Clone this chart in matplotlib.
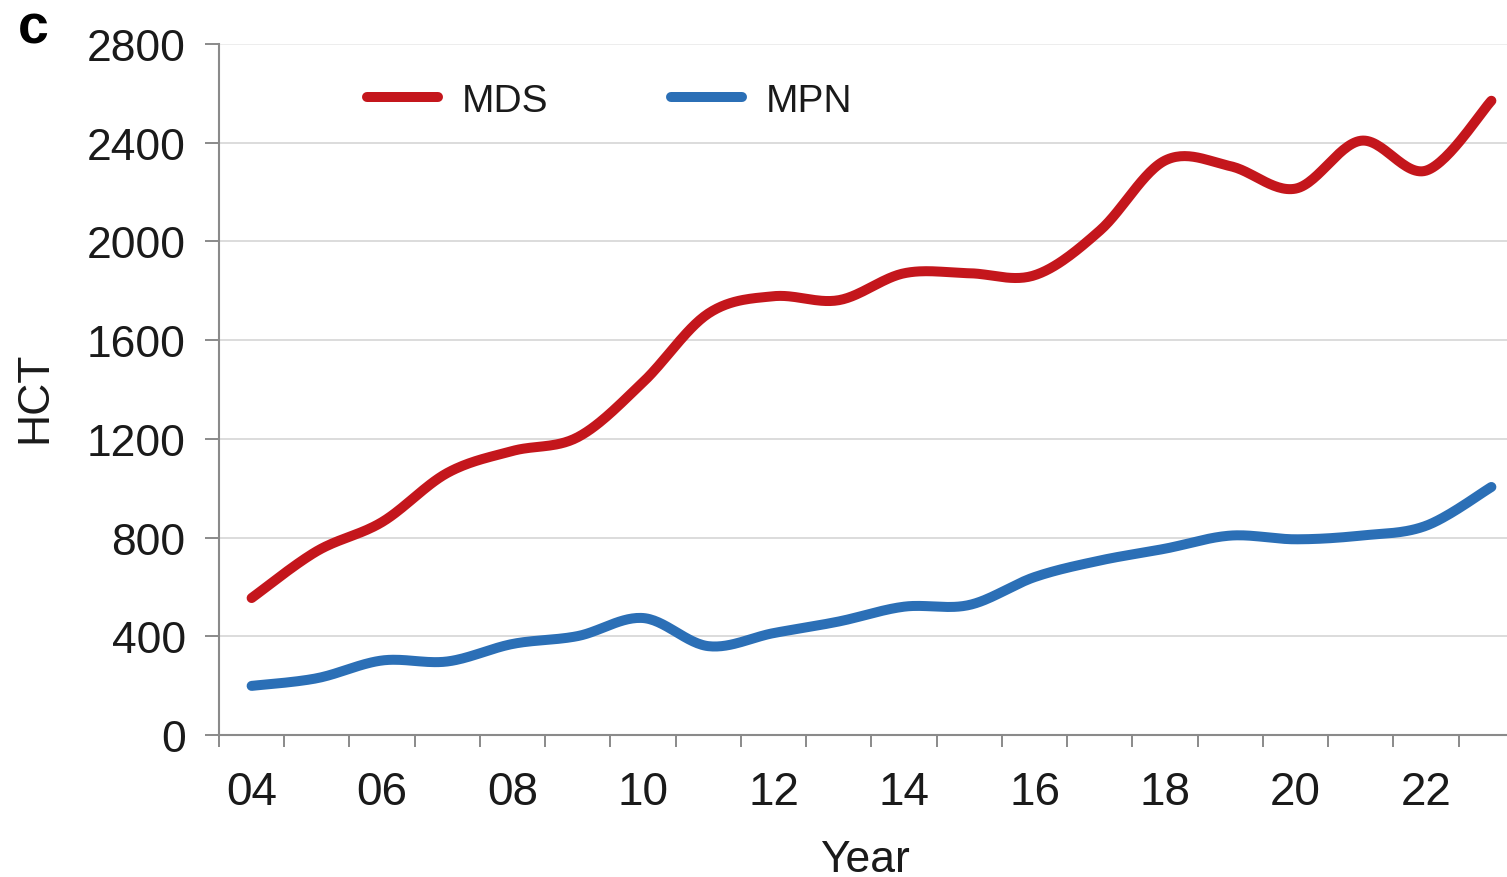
import numpy as np
import matplotlib
matplotlib.use('Agg')
import matplotlib.pyplot as plt

# HCT counts per year, 2004-2023
years = list(range(2004, 2024))
mds = [555, 745, 863, 1062, 1151, 1207, 1430, 1708, 1778, 1762,
       1871, 1871, 1863, 2044, 2328, 2305, 2214, 2408, 2287, 2570]
mpn = [199, 230, 302, 298, 369, 401, 474, 360, 413, 460,
       520, 527, 640, 707, 755, 808, 793, 808, 848, 1005]
tick_years = list(range(2004, 2023, 2))
tick_labels = ['%02d' % (y % 100) for y in tick_years]

RED = '#C4161C'
BLUE = '#2B6FB6'
GREY = '#8a8a8a'
TXT = '#1a1a1a'

plt.rcParams['font.family'] = ['Liberation Sans', 'DejaVu Sans']


def smooth(x, y, n=30):
    # Catmull-Rom curve through the points (spreadsheet-style smoothed line)
    x = np.asarray(x, float)
    y = np.asarray(y, float)
    px = np.concatenate([[x[0]], x, [x[-1]]])
    py = np.concatenate([[y[0]], y, [y[-1]]])
    xs, ys = [], []
    t = np.linspace(0, 1, n, endpoint=False)
    for i in range(1, len(px) - 2):
        for p, out in ((px, xs), (py, ys)):
            p0, p1, p2, p3 = p[i - 1], p[i], p[i + 1], p[i + 2]
            out.extend(0.5 * (2 * p1 + (-p0 + p2) * t
                              + (2 * p0 - 5 * p1 + 4 * p2 - p3) * t ** 2
                              + (-p0 + 3 * p1 - 3 * p2 + p3) * t ** 3))
    xs.append(x[-1])
    ys.append(y[-1])
    return np.array(xs), np.array(ys)


W, H = 1507, 878
fig = plt.figure(figsize=(W / 100, H / 100), dpi=100)
ax = fig.add_axes([219 / W, 1 - 736 / H, (1524 - 219) / W, (736 - 45) / H])

for vals, col, name in ((mds, RED, 'MDS'), (mpn, BLUE, 'MPN')):
    sx, sy = smooth(years, vals)
    ax.plot(sx, sy, color=col, lw=7.2, solid_capstyle='round',
            solid_joinstyle='round', label=name, zorder=3)

ax.set_xlim(2003.5, 2023.5)
ax.set_ylim(0, 2800)
ax.set_yticks(range(0, 2801, 400))
ax.set_xticks(tick_years)
ax.set_xticklabels(tick_labels)
ax.set_xticks(np.arange(2003.5, 2024, 1), minor=True)

ax.tick_params(axis='y', length=10, width=1.4, color=GREY, pad=14,
               labelsize=32, labelcolor=TXT)
ax.tick_params(axis='x', which='major', length=0, pad=25,
               labelsize=33, labelcolor=TXT)
ax.tick_params(axis='x', which='minor', length=8.5, width=1.4, color=GREY)

ax.grid(axis='y', color='#dcdcdc', lw=1.4, zorder=0)
ax.yaxis.get_gridlines()[-1].set_color('#ededed')
ax.set_axisbelow(True)

for s in ('top', 'right'):
    ax.spines[s].set_visible(False)
for s in ('left', 'bottom'):
    ax.spines[s].set_color(GREY)
    ax.spines[s].set_linewidth(1.5)

ax.set_ylabel('HCT', fontsize=32, color=TXT)
ax.yaxis.set_label_coords(-0.1257, 0.49)
ax.set_xlabel('Year', fontsize=32, color=TXT, va='top')
ax.xaxis.set_label_coords(0.495, -0.1505)

leg = ax.legend(loc='center left', bbox_to_anchor=(367 / W, 1 - 102 / H),
                bbox_transform=fig.transFigure, ncol=2, frameon=False,
                fontsize=28, handlelength=1.82, handletextpad=0.62,
                columnspacing=3.16, borderpad=0, borderaxespad=0)
for t in leg.get_texts():
    t.set_color(TXT)

fig.text(18 / W, 1 - 44 / H, 'c', fontsize=40, fontweight='bold',
         color='black', ha='left', va='baseline')

fig.savefig('out.png', dpi=100)
